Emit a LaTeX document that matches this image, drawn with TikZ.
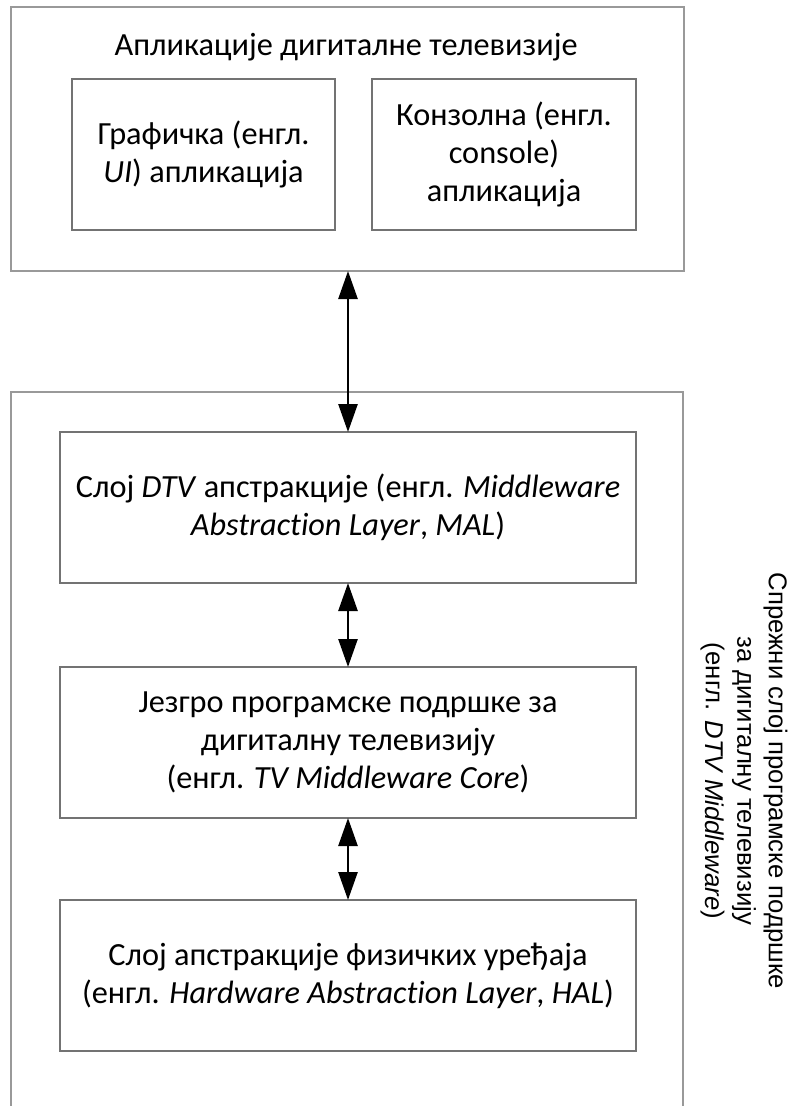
\documentclass[tikz,border=0pt]{standalone}
\usepackage{fontspec}
\setmainfont{Carlito}[Ligatures=NoCommon]
\newfontfamily\sidefont{Liberation Sans}
\usetikzlibrary{arrows.meta}

\begin{document}
\begin{tikzpicture}[x=1pt,y=-1pt,
  frame/.style={draw=black!40, line width=1.3pt, inner sep=0pt, outer sep=0pt},
  box/.style={draw=black!55, line width=1.3pt, fill=white, align=center,
    inner sep=0pt, outer sep=0pt, font=\fontsize{32.3}{38}\selectfont},
  wideb/.style={box, minimum width=576pt, minimum height=151pt},
  link/.style={line width=2.6pt,
    {Triangle[length=28pt,width=19pt]}-{Triangle[length=28pt,width=19pt]}}]
\useasboundingbox (0,0) rectangle (793,1106);
\fill[white] (0,0) rectangle (793,1106);

% application layer
\node[frame, minimum width=673pt, minimum height=264pt] (apps) at (347.5,139) {};
\node[font=\fontsize{32.3}{38}\selectfont] (appsTitle) at (346,47)
  {Апликације дигиталне телевизије};
\node[box, minimum width=263pt, minimum height=151pt] (ui) at (203.5,154.5)
  {Графичка (енгл.\\\textit{UI}) апликација};
\node[box, minimum width=264pt, minimum height=151pt] (console) at (504,154.5)
  {Конзолна (енгл.\\console)\\апликација};

% middleware layer
\node[frame, minimum width=672pt, minimum height=728pt] (mw) at (347,756) {};
\node[wideb] (mal) at (348,507.5)
  {Слој \textit{DTV} апстракције (енгл. \textit{Middleware}\\\textit{Abstraction Layer}, \textit{MAL})};
\node[wideb] (core) at (348,742.5)
  {Језгро програмске подршке за\\дигиталну телевизију\\(енгл. \textit{TV Middleware Core})};
\node[wideb] (hal) at (348,975.5)
  {Слој апстракције физичких уређаја\\(енгл. \textit{Hardware Abstraction Layer}, \textit{HAL})};

\node[rotate=-90, align=center, font=\sidefont\fontsize{25.7}{31.5}\selectfont]
  (mwLabel) at (744,781)
  {Спрежни слој програмске подршке\\за дигиталну телевизију\\(енгл. \textit{DTV Middleware})};

% links between layers
\draw[link] (mal.north |- apps.south) -- (mal.north);
\draw[link] (mal.south) -- (core.north);
\draw[link] (core.south) -- (hal.north);
\end{tikzpicture}
\end{document}
